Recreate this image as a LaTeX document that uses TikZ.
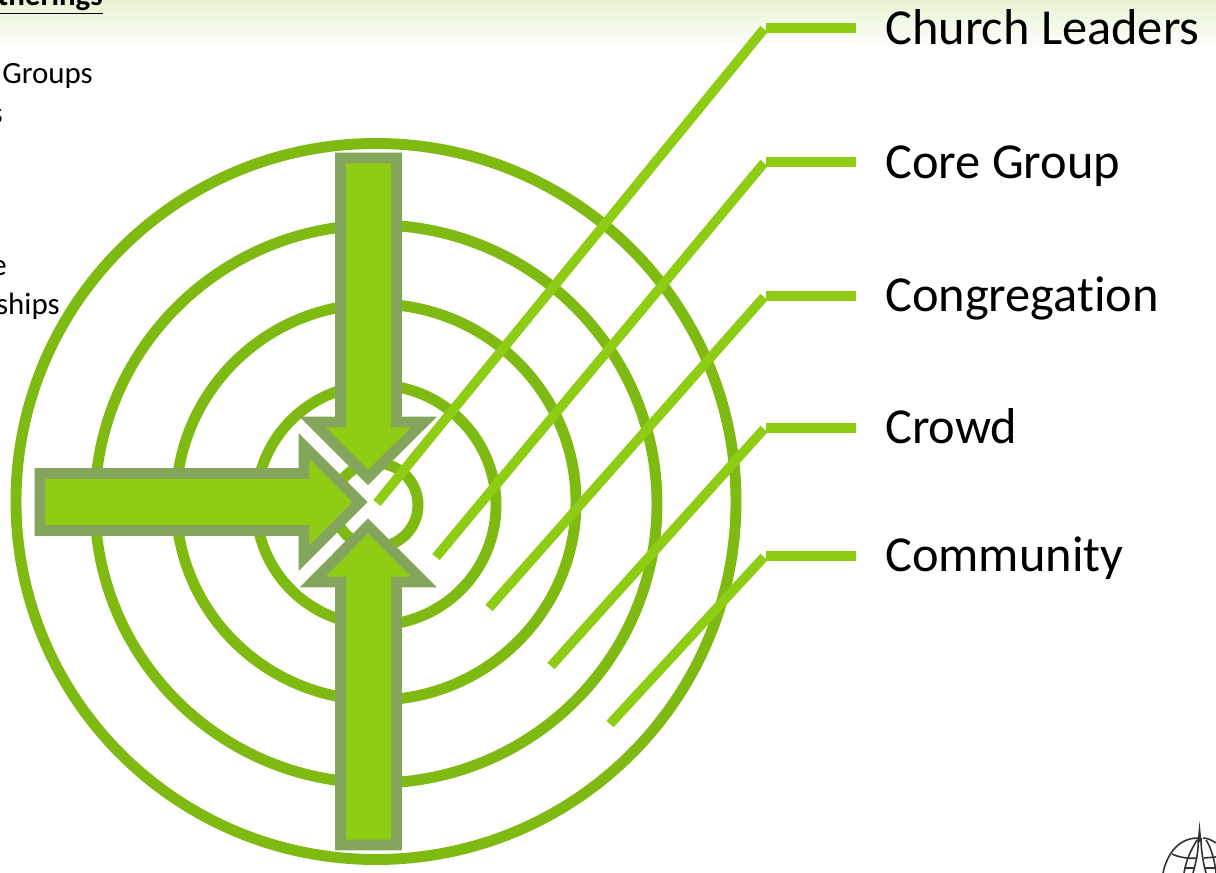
\documentclass[tikz,border=0pt]{standalone}
\usepackage{fontspec}
\setmainfont{Carlito}[Ligatures=NoCommon]
\definecolor{ring}{HTML}{7FBA12}
\definecolor{lineg}{HTML}{8FCC14}
\definecolor{arrowfill}{HTML}{90CC14}
\definecolor{arrowedge}{HTML}{84A65C}
\definecolor{band}{HTML}{E8F3D2}
\begin{document}
\begin{tikzpicture}[x=0.75pt,y=-0.75pt,
  ringstyle/.style={draw=ring,line width=8.2pt},
  arrowstyle/.style={fill=arrowfill,draw=arrowedge,line width=8pt,miter limit=10},
  leader/.style={draw=lineg,line width=7.2pt},
  stub/.style={draw=lineg,line width=8.2pt},
  lab/.style={anchor=base west,inner sep=0pt,font=\fontsize{37.8pt}{40pt}\selectfont},
  side/.style={inner sep=0pt,font=\fontsize{23.2pt}{26pt}\selectfont},
  logo/.style={draw=black!80,line width=1.2pt}]
\useasboundingbox (0,0) rectangle (1216,873);
\clip (0,0) rectangle (1216,873);
\fill[top color=band,bottom color=white] (0,0) rectangle (1216,48);
% side texts
\node[side,anchor=base east,font=\fontsize{23.2pt}{26pt}\selectfont\bfseries] (t1) at (103,6) {\underline{therings}};
\node[side,anchor=base west] (t2) at (2,84) {Groups};
\node[side,anchor=base east] (t3) at (3,124) {s};
\node[side,anchor=base east] (t4) at (7,276) {e};
\node[side,anchor=base east] (t5) at (60,315) {ships};
% rings
\draw[ringstyle] (376,501.5) ellipse (360 and 358);
\draw[ringstyle] (376,504) ellipse (281 and 279);
\draw[ringstyle] (376,502) ellipse (200 and 198);
\draw[ringstyle] (376,505) circle (120);
\draw[ringstyle] (376,505) circle (42);
% arrows
\draw[arrowstyle] (340.5,158) -- (396.5,158) -- (396.5,422) -- (424,422) -- (368,477.5) -- (312.5,422) -- (340.5,422) -- cycle;
\draw[arrowstyle] (340.5,845) -- (396.5,845) -- (396.5,582) -- (424,582) -- (368,526) -- (312.5,582) -- (340.5,582) -- cycle;
\draw[arrowstyle] (40,473.5) -- (304,473.5) -- (304,446) -- (360,502) -- (304,558) -- (304,530.5) -- (40,530.5) -- cycle;
% labels
\node[lab] (a) at (885,45) {Church Leaders};
\node[lab] (b) at (885,179) {Core Group};
\node[lab] (c) at (885,312) {Congregation};
\node[lab] (d) at (885,443) {Crowd};
\node[lab] (e) at (885,571) {Community};
% leaders
\coordinate (a1) at (856,28); \coordinate (a2) at (766,28); \coordinate (a3) at (764,29); \coordinate (a4) at (377,503);
\coordinate (b1) at (856,162); \coordinate (b2) at (766,162); \coordinate (b3) at (764,163); \coordinate (b4) at (436,557);
\coordinate (c1) at (856,296); \coordinate (c2) at (766,296); \coordinate (c3) at (764,297); \coordinate (c4) at (489,608);
\coordinate (d1) at (856,428); \coordinate (d2) at (766,428); \coordinate (d3) at (764,429); \coordinate (d4) at (551,666);
\coordinate (e1) at (856,556); \coordinate (e2) at (766,556); \coordinate (e3) at (764,557); \coordinate (e4) at (610,724);
\foreach \n in {a,b,c,d,e}{
  \draw[stub] (\n1) -- (\n2);
  \draw[leader] (\n3) -- (\n4);
}
% logo
\draw[logo] (1163,873) .. controls (1166,858) and (1176,838) .. (1198,838);
\draw[logo] (1203,838) .. controls (1208,838) and (1213,841) .. (1216,843);
\draw[logo] (1197,840) .. controls (1191,850) and (1186,860) .. (1184,873);
\draw[logo] (1172,854) .. controls (1178,857) and (1188,859) .. (1197,858);
\draw[logo] (1198,838) .. controls (1199,850) and (1196,862) .. (1193,873);
\draw[logo] (1201,838) .. controls (1201,850) and (1203,862) .. (1206,873);
\draw[logo] (1204,858) -- (1216,857);
\draw[logo] (1184,868) -- (1194,868);
\draw[logo] (1205,868) -- (1216,868);
\draw[logo] (1206,840) .. controls (1210,846) and (1214,856) .. (1216,873);
\fill[black!80] (1197.5,842) -- (1199.5,821) -- (1201.5,842) -- cycle;
\end{tikzpicture}
\end{document}
